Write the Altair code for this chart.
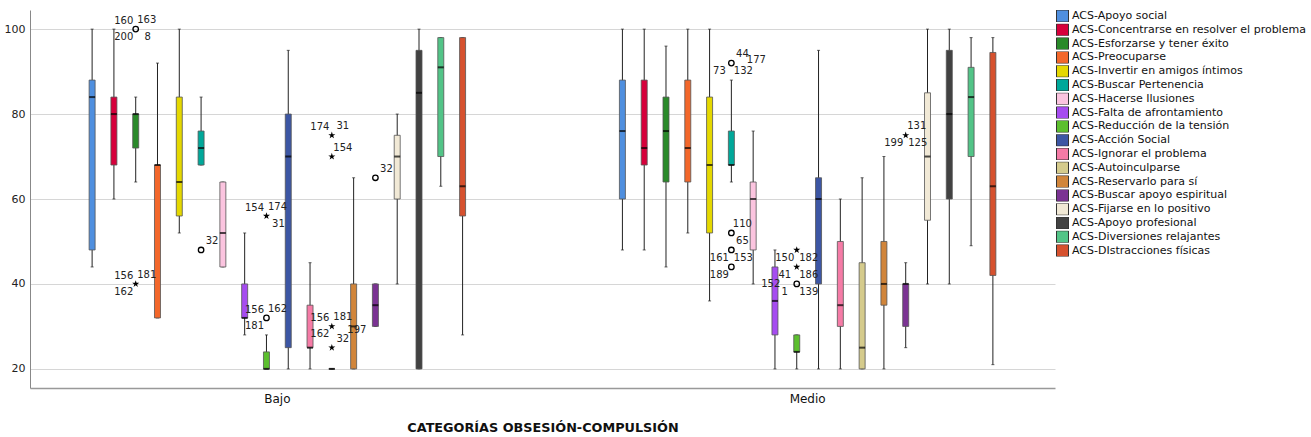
import altair as alt
import pandas as pd

groups = ["Bajo", "Medio"]
series = [
    "ACS-Apoyo social",
    "ACS-Concentrarse en resolver el problema",
    "ACS-Esforzarse y tener éxito",
    "ACS-Preocuparse",
    "ACS-Invertir en amigos íntimos",
    "ACS-Buscar Pertenencia",
    "ACS-Hacerse Ilusiones",
    "ACS-Falta de afrontamiento",
    "ACS-Reducción de la tensión",
    "ACS-Acción Social",
    "ACS-Ignorar el problema",
    "ACS-Autoinculparse",
    "ACS-Reservarlo para sí",
    "ACS-Buscar apoyo espiritual",
    "ACS-Fijarse en lo positivo",
    "ACS-Apoyo profesional",
    "ACS-Diversiones relajantes",
    "ACS-DIstracciones físicas",
]
colors = [
    "#4F8FDF", "#D6003B", "#2A8A2A", "#F3672A", "#E5D800", "#00A89A",
    "#FBC4DF", "#A64CF0", "#5CBF2E", "#3C56A4", "#F57BA6", "#D5CB8C",
    "#D1853A", "#7B3393", "#F1E9D6", "#424242", "#52C487", "#D6512E",
]

# Box statistics (lower whisker, Q1, median, Q3, upper whisker)
bajo_wlo = [44, 60, 64, 32, 52, 68, 44, 28, 20, 20, 20, 20, 20, 30, 40, 20, 63, 28]
bajo_q1 = [48, 68, 72, 32, 56, 68, 44, 32, 20, 25, 25, 20, 20, 30, 60, 20, 70, 56]
bajo_med = [84, 80, 80, 68, 64, 72, 52, 32, 20, 70, 25, 20, 30, 35, 70, 85, 91, 63]
bajo_q3 = [88, 84, 80, 68, 84, 76, 64, 40, 24, 80, 35, 20, 40, 40, 75, 95, 98, 98]
bajo_whi = [100, 100, 84, 92, 100, 84, 64, 52, 28, 95, 45, 20, 65, 40, 80, 100, 98, 98]

medio_wlo = [48, 48, 44, 52, 36, 64, 40, 20, 20, 20, 20, 20, 20, 25, 40, 40, 49, 21]
medio_q1 = [60, 68, 64, 64, 52, 68, 48, 28, 24, 40, 30, 20, 35, 30, 55, 60, 70, 42]
medio_med = [76, 72, 76, 72, 68, 68, 60, 36, 24, 60, 35, 25, 40, 40, 70, 80, 84, 63]
medio_q3 = [88, 88, 84, 88, 84, 76, 64, 44, 28, 65, 50, 45, 50, 40, 85, 95, 91, 94.5]
medio_whi = [100, 100, 96, 100, 100, 88, 76, 48, 28, 95, 60, 65, 70, 45, 100, 100, 98, 98]

# Outliers
out_group = ["Bajo"] * 10 + ["Medio"] * 8
out_series = [2, 2, 5, 8, 8, 11, 11, 11, 11, 13, 5, 5, 5, 5, 8, 8, 8, 13]
out_value = [100, 40, 48, 56, 32, 75, 70, 30, 25, 65, 92, 52, 48, 44, 48, 44, 40, 75]
out_kind = ["circle", "star", "circle", "star", "circle", "star", "star", "star", "star", "circle",
            "circle", "circle", "circle", "circle", "star", "star", "circle", "star"]
out_ul = ["160", "156", "", "154", "156", "174", "", "156", "", "", "", "", "", "", "", "", "", ""]
out_ur = ["163", "181", "32", "174", "162", "31", "154", "181", "32", "32", "44", "110", "65", "", "", "", "", "131"]
out_ll = ["200", "162", "", "", "181", "", "", "162", "", "", "73", "", "161", "189", "150", "41", "1", "199"]
out_lr = ["8", "", "", "31", "", "", "", "", "", "", "132", "", "153", "", "182", "186", "139", "125"]
out_r = ["", "", "", "", "", "", "", "197", "", "", "", "", "", "", "", "", "", ""]
out_ru = ["", "", "", "", "", "", "", "", "", "", "177", "", "", "", "", "", "", ""]
out_l = ["", "", "", "", "", "", "", "", "", "", "", "", "", "", "", "", "152", ""]

rows = []
for g, st in zip(groups, [(bajo_wlo, bajo_q1, bajo_med, bajo_q3, bajo_whi),
                          (medio_wlo, medio_q1, medio_med, medio_q3, medio_whi)]):
    for i, s in enumerate(series):
        rows.append(dict(group=g, series=s, wlo=st[0][i], q1=st[1][i], med=st[2][i],
                         q3=st[3][i], whi=st[4][i]))
box_df = pd.DataFrame(rows)

pt_df = pd.DataFrame(dict(group=out_group, series=[series[i] for i in out_series],
                          value=out_value, kind=out_kind))
lab_rows = []
for corner, arr in [("UL", out_ul), ("UR", out_ur), ("LL", out_ll), ("LR", out_lr),
                    ("R", out_r), ("RU", out_ru), ("L", out_l)]:
    for k, t in enumerate(arr):
        if t:
            lab_rows.append(dict(group=out_group[k], series=series[out_series[k]],
                                 value=out_value[k], label=t, corner=corner))
lab_df = pd.DataFrame(lab_rows)

FONT = "DejaVu Sans"
y_scale = alt.Scale(domain=[15.5, 104.5], nice=False, zero=False)
y_axis = alt.Axis(title=None, values=[20, 40, 60, 80, 100], ticks=False, labelPadding=5,
                  labelFontSize=11, labelColor="#222", domainColor="#888",
                  gridColor="#d6d6d6", grid=True)
x_enc = alt.X("group:N",
              scale=alt.Scale(domain=groups, paddingInner=0.2603, paddingOuter=0.0966),
              axis=alt.Axis(title="CATEGORÍAS OBSESIÓN-COMPULSIÓN", labelAngle=0, ticks=False,
                            labelFontSize=12, labelPadding=5, labelColor="#111",
                            titleFontSize=12.8, titleFontWeight="bold", titlePadding=17,
                            titleColor="#111", domainColor="#999", domainWidth=1.5,
                            grid=False))
xo_enc = alt.XOffset("series:N", scale=alt.Scale(domain=series, paddingInner=0, paddingOuter=0))

base = alt.Chart(box_df)
whisk = base.mark_rule(color="#222", strokeWidth=1).encode(
    x=x_enc, xOffset=xo_enc, y=alt.Y("wlo:Q", scale=y_scale, axis=y_axis), y2="whi:Q")
cap_lo = base.mark_tick(color="#222", size=3, thickness=1).encode(
    x=x_enc, xOffset=xo_enc, y=alt.Y("wlo:Q", scale=y_scale, axis=y_axis))
cap_hi = base.mark_tick(color="#222", size=3, thickness=1).encode(
    x=x_enc, xOffset=xo_enc, y=alt.Y("whi:Q", scale=y_scale, axis=y_axis))
boxes = base.mark_bar(size=6, stroke="#555", strokeWidth=0.8).encode(
    x=x_enc, xOffset=xo_enc, y=alt.Y("q1:Q", scale=y_scale, axis=y_axis), y2="q3:Q",
    color=alt.Color("series:N", scale=alt.Scale(domain=series, range=colors),
                    legend=alt.Legend(title=None, symbolType="square", symbolSize=144,
                                      symbolStrokeColor="#333", symbolStrokeWidth=1,
                                      symbolOpacity=1, labelFont=FONT, labelFontSize=11,
                                      labelColor="#111", rowPadding=1.8, clipHeight=12,
                                      offset=1, padding=0, labelOffset=3, labelLimit=400)))
med = base.mark_tick(color="black", size=6, thickness=2).encode(
    x=x_enc, xOffset=xo_enc, y=alt.Y("med:Q", scale=y_scale, axis=y_axis))

pbase = alt.Chart(pt_df)
circles = pbase.transform_filter(alt.datum.kind == "circle").mark_point(
    shape="circle", filled=False, color="black", size=30, strokeWidth=1.3, opacity=1).encode(
    x=x_enc, xOffset=xo_enc, y=alt.Y("value:Q", scale=y_scale, axis=y_axis))
star_path = ("M0,-1L0.2245,-0.309L0.9511,-0.309L0.3633,0.118L0.5878,0.809L0,0.382"
             "L-0.5878,0.809L-0.3633,0.118L-0.9511,-0.309L-0.2245,-0.309Z")
stars = pbase.transform_filter(alt.datum.kind == "star").mark_point(
    shape=star_path, filled=True, color="black", size=55, opacity=1).encode(
    x=x_enc, xOffset=xo_enc, y=alt.Y("value:Q", scale=y_scale, axis=y_axis))

offsets = {"UL": (-12, -8), "UR": (11, -9), "LL": (-12, 8), "LR": (12, 8),
           "R": (25, 4), "RU": (25, -3), "L": (-26, 0)}
lbase = alt.Chart(lab_df)
label_layers = []
for c, (dx, dy) in offsets.items():
    label_layers.append(
        lbase.transform_filter(alt.datum.corner == c).mark_text(
            dx=dx, dy=dy, fontSize=10, font=FONT, color="#222", align="center",
            baseline="middle").encode(
            x=x_enc, xOffset=xo_enc, y=alt.Y("value:Q", scale=y_scale, axis=y_axis),
            text="label:N"))

chart = alt.layer(whisk, cap_lo, cap_hi, boxes, med, circles, stars, *label_layers).properties(
    width=1025, height=378,
    padding={"left": 4, "top": 10, "right": 0, "bottom": 0},
).configure_view(strokeWidth=0).configure_axis(labelFont=FONT, titleFont=FONT)

chart.save("out.html", embed_options={"renderer": "svg", "actions": False})
